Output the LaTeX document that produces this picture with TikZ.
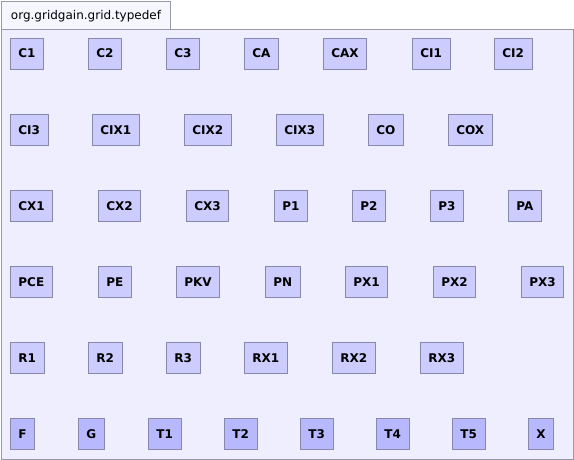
\documentclass[tikz,border=0pt]{standalone}
\usepackage{fontspec}
\setmainfont{DejaVu Sans}
\usetikzlibrary{positioning}
\definecolor{pkgfill}{RGB}{238,238,255}
\definecolor{tabfill}{RGB}{246,246,255}
\definecolor{pkgline}{RGB}{153,153,170}
\definecolor{typefill}{RGB}{204,204,255}
\definecolor{leaffill}{RGB}{184,184,255}
\definecolor{typeline}{RGB}{136,136,170}
\tikzset{
  typebox/.style={draw=typeline,fill=typefill,line width=.8pt,anchor=west,
    inner xsep=8pt,inner ysep=0pt,minimum height=31pt,
    font=\fontsize{12}{14}\selectfont\bfseries},
  leafbox/.style={typebox,fill=leaffill}
}

\begin{document}
\begin{tikzpicture}[x=1pt,y=-1pt,line width=.8pt]
\path[use as bounding box] (0,0) rectangle (574,460);
\draw[pkgline,fill=pkgfill] (1,29) rectangle (573,459);
\draw[pkgline,fill=tabfill] (1,1) rectangle (170,29);
\node[anchor=center,inner sep=0pt,font=\fontsize{12}{14}\selectfont] (pkg) at (86,16) {org.gridgain.grid.typedef};
% row 1
\node[typebox] (C1) at (10,53.5) {C1};
\node[typebox] (C2) at (88,53.5) {C2};
\node[typebox] (C3) at (166,53.5) {C3};
\node[typebox] (CA) at (244,53.5) {CA};
\node[typebox] (CAX) at (323,53.5) {CAX};
\node[typebox] (CI1) at (412,53.5) {CI1};
\node[typebox] (CI2) at (494,53.5) {CI2};
% row 2
\node[typebox] (CI3) at (10,130) {CI3};
\node[typebox] (CIX1) at (92,130) {CIX1};
\node[typebox] (CIX2) at (184,130) {CIX2};
\node[typebox] (CIX3) at (276,130) {CIX3};
\node[typebox] (CO) at (368,130) {CO};
\node[typebox] (COX) at (448,130) {COX};
% row 3
\node[typebox] (CX1) at (10,206) {CX1};
\node[typebox] (CX2) at (98,206) {CX2};
\node[typebox] (CX3) at (186,206) {CX3};
\node[typebox] (P1) at (274,206) {P1};
\node[typebox] (P2) at (352,206) {P2};
\node[typebox] (P3) at (430,206) {P3};
\node[typebox] (PA) at (508,206) {PA};
% row 4
\node[typebox] (PCE) at (10,282) {PCE};
\node[typebox] (PE) at (98,282) {PE};
\node[typebox] (PKV) at (176,282) {PKV};
\node[typebox] (PN) at (265,282) {PN};
\node[typebox] (PX1) at (345,282) {PX1};
\node[typebox] (PX2) at (433,282) {PX2};
\node[typebox] (PX3) at (521,282) {PX3};
% row 5
\node[typebox] (R1) at (10,358) {R1};
\node[typebox] (R2) at (88,358) {R2};
\node[typebox] (R3) at (166,358) {R3};
\node[typebox] (RX1) at (244,358) {RX1};
\node[typebox] (RX2) at (332,358) {RX2};
\node[typebox] (RX3) at (420,358) {RX3};
% row 6
\node[leafbox] (F) at (10,434) {F};
\node[leafbox] (G) at (78,434) {G};
\node[leafbox] (T1) at (148,434) {T1};
\node[leafbox] (T2) at (224,434) {T2};
\node[leafbox] (T3) at (300,434) {T3};
\node[leafbox] (T4) at (376,434) {T4};
\node[leafbox] (T5) at (452,434) {T5};
\node[leafbox] (X) at (528,434) {X};
\end{tikzpicture}
\end{document}
